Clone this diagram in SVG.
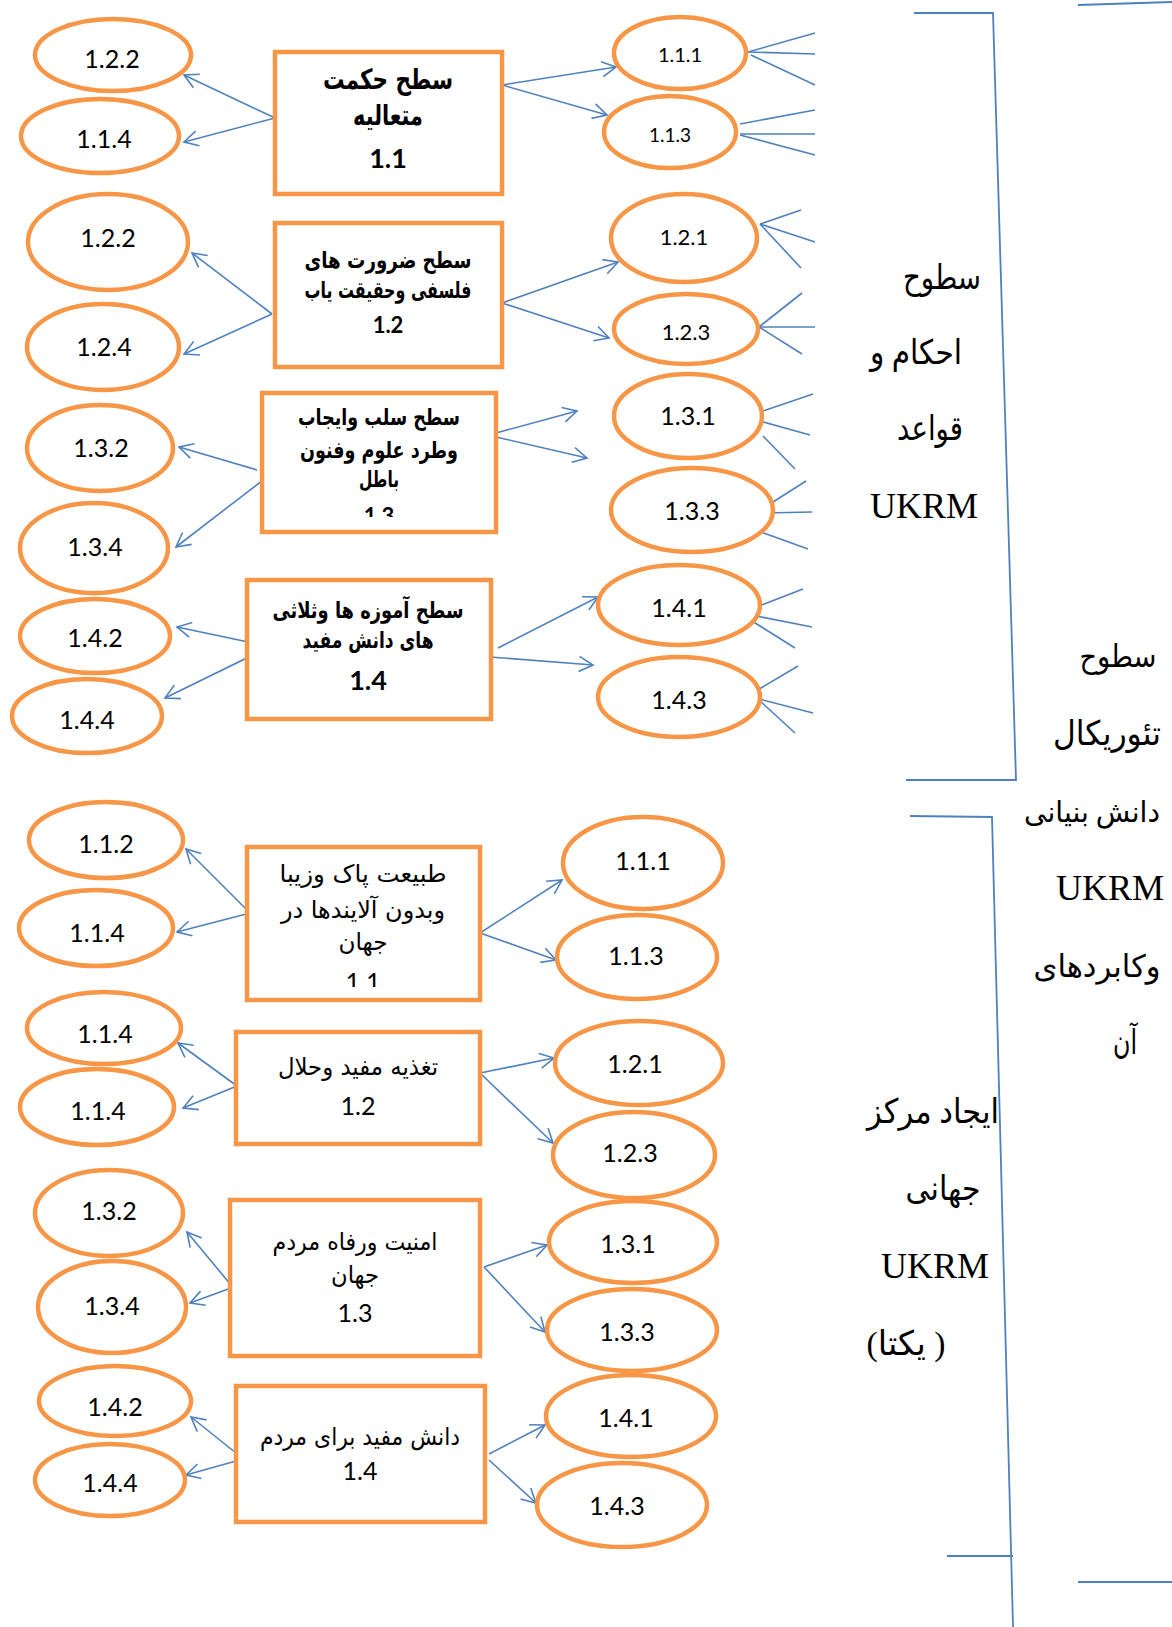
<svg xmlns="http://www.w3.org/2000/svg" width="1172" height="1627" viewBox="0 0 1172 1627">
<defs>
<style>
.el{fill:#fff;stroke:#F79646;stroke-width:4.5}
.bx{fill:#fff;stroke:#F79646;stroke-width:4.5}
.lbl{font-family:Lato,'Open Sans',sans-serif;font-size:25px;fill:#000;text-anchor:middle}
.lbs{font-family:Lato,'Open Sans',sans-serif;font-size:22px;fill:#000;text-anchor:middle}
.ar{font-family:'DejaVu Sans',sans-serif;fill:#000;text-anchor:middle}
.arb{font-family:'DejaVu Sans',sans-serif;font-weight:bold;fill:#000;text-anchor:middle}
.num{font-family:Lato,'Open Sans',sans-serif;fill:#000;text-anchor:middle}
.rt{font-family:'Liberation Serif','DejaVu Sans',serif;font-size:34px;fill:#000;text-anchor:middle}
.uk{font-size:36px}
.cn line{stroke:#4F81BD;stroke-width:1.6;fill:none}
.cn .a{marker-end:url(#ah)}
.br{stroke:#4F81BD;stroke-width:1.8;fill:none}
</style>
<marker id="ah" viewBox="0 0 18 18" refX="16" refY="9" markerWidth="18" markerHeight="18" markerUnits="userSpaceOnUse" orient="auto">
<path d="M2,1.5 L16,9 L2,16.5" fill="none" stroke="#4F81BD" stroke-width="1.6"/>
</marker>
<clipPath id="clip13"><rect x="262" y="393" width="234" height="124"/></clipPath>
<clipPath id="clip11"><rect x="247" y="847" width="233" height="140"/></clipPath>
</defs>

<g id="connectors" class="cn">
<line class="a" x1="275" y1="118" x2="184" y2="75"/>
<line class="a" x1="275" y1="118" x2="184" y2="142"/>
<line class="a" x1="502" y1="85" x2="616" y2="67"/>
<line class="a" x1="502" y1="85" x2="607" y2="115"/>
<line class="a" x1="272" y1="314" x2="192" y2="253"/>
<line class="a" x1="272" y1="314" x2="184" y2="354"/>
<line class="a" x1="502" y1="303" x2="618" y2="262"/>
<line class="a" x1="502" y1="303" x2="609" y2="338"/>
<line class="a" x1="257" y1="470" x2="179" y2="447"/>
<line class="a" x1="263" y1="480" x2="176" y2="547"/>
<line class="a" x1="496" y1="433" x2="577" y2="411"/>
<line class="a" x1="496" y1="437" x2="587" y2="458"/>
<line class="a" x1="253" y1="643" x2="177" y2="627"/>
<line class="a" x1="257" y1="653" x2="165" y2="698"/>
<line class="a" x1="498" y1="648" x2="598" y2="597"/>
<line class="a" x1="490" y1="657" x2="593" y2="665"/>
<line class="a" x1="250" y1="913" x2="186" y2="849"/>
<line class="a" x1="250" y1="913" x2="177" y2="932"/>
<line class="a" x1="480" y1="933" x2="562" y2="880"/>
<line class="a" x1="480" y1="933" x2="556" y2="960"/>
<line class="a" x1="237" y1="1086" x2="178" y2="1043"/>
<line class="a" x1="237" y1="1086" x2="183" y2="1108"/>
<line class="a" x1="480" y1="1073" x2="554" y2="1058"/>
<line class="a" x1="480" y1="1073" x2="553" y2="1143"/>
<line class="a" x1="231" y1="1285" x2="187" y2="1232"/>
<line class="a" x1="231" y1="1288" x2="190" y2="1303"/>
<line class="a" x1="484" y1="1267" x2="547" y2="1245"/>
<line class="a" x1="484" y1="1267" x2="545" y2="1332"/>
<line class="a" x1="236" y1="1453" x2="191" y2="1417"/>
<line class="a" x1="236" y1="1461" x2="186" y2="1475"/>
<line class="a" x1="489" y1="1454" x2="545" y2="1425"/>
<line class="a" x1="489" y1="1460" x2="536" y2="1503"/>
<line x1="748" y1="52" x2="815" y2="33"/>
<line x1="748" y1="52" x2="815" y2="54"/>
<line x1="751" y1="55" x2="815" y2="85"/>
<line x1="740" y1="124" x2="815" y2="110"/>
<line x1="740" y1="134" x2="815" y2="134"/>
<line x1="740" y1="135" x2="815" y2="155"/>
<line x1="760" y1="224" x2="801" y2="210"/>
<line x1="760" y1="224" x2="815" y2="242"/>
<line x1="760" y1="224" x2="801" y2="268"/>
<line x1="759" y1="327" x2="802" y2="293"/>
<line x1="759" y1="327" x2="815" y2="327"/>
<line x1="759" y1="327" x2="802" y2="354"/>
<line x1="763" y1="411" x2="813" y2="394"/>
<line x1="760" y1="421" x2="810" y2="435"/>
<line x1="763" y1="436" x2="795" y2="469"/>
<line x1="773" y1="502" x2="806" y2="481"/>
<line x1="764" y1="513" x2="812" y2="512"/>
<line x1="761" y1="532" x2="808" y2="549"/>
<line x1="759" y1="606" x2="803" y2="589"/>
<line x1="756" y1="616" x2="812" y2="627"/>
<line x1="752" y1="621" x2="795" y2="648"/>
<line x1="756" y1="691" x2="798" y2="666"/>
<line x1="759" y1="699" x2="813" y2="713"/>
<line x1="759" y1="700" x2="795" y2="733"/>
</g>

<g id="brackets">
<polyline class="br" points="914,13 993,13 1016,780 906,780"/>
<line class="br" x1="1078" y1="5" x2="1172" y2="2"/>
<polyline class="br" points="910,816 992,817 1013,1627"/>
<line class="br" x1="947" y1="1556" x2="1013" y2="1556"/>
<line class="br" x1="1078" y1="1582" x2="1172" y2="1582"/>
</g>

<!-- upper boxes -->
<g id="box-u11">
<rect class="bx" x="275" y="52" width="227" height="142"/>
<text class="arb" x="388" y="89" font-size="28" textLength="130" lengthAdjust="spacingAndGlyphs">سطح حکمت</text>
<text class="arb" x="388" y="125" font-size="28" textLength="70" lengthAdjust="spacingAndGlyphs">متعالیه</text>
<text class="num" x="388" y="168" font-size="27" font-weight="bold">1.1</text>
</g>
<g id="box-u12">
<rect class="bx" x="275" y="223" width="227" height="144"/>
<text class="arb" x="388" y="268" font-size="23" textLength="167" lengthAdjust="spacingAndGlyphs">سطح ضرورت های</text>
<text class="arb" x="388" y="298" font-size="23" textLength="167" lengthAdjust="spacingAndGlyphs">فلسفی وحقیقت یاب</text>
<text class="num" x="388" y="333" font-size="22" font-weight="bold">1.2</text>
</g>
<g id="box-u13">
<rect class="bx" x="262" y="393" width="234" height="139"/>
<text class="arb" x="379" y="425" font-size="23" textLength="162" lengthAdjust="spacingAndGlyphs">سطح سلب وایجاب</text>
<text class="arb" x="379" y="458" font-size="23" textLength="158" lengthAdjust="spacingAndGlyphs">وطرد علوم وفنون</text>
<text class="arb" x="379" y="487" font-size="23" textLength="40" lengthAdjust="spacingAndGlyphs">باطل</text>
<text class="num" x="379" y="524" font-size="22" font-weight="bold" clip-path="url(#clip13)">1.3</text>
</g>
<g id="box-u14">
<rect class="bx" x="247" y="580" width="244" height="139"/>
<text class="arb" x="368" y="618" font-size="23" textLength="191" lengthAdjust="spacingAndGlyphs">سطح آموزه ها وثلاثی</text>
<text class="arb" x="368" y="648" font-size="23" textLength="131" lengthAdjust="spacingAndGlyphs">های دانش مفید</text>
<text class="num" x="368" y="690" font-size="27" font-weight="bold">1.4</text>
</g>

<!-- lower boxes -->
<g id="box-l11">
<rect class="bx" x="247" y="847" width="233" height="153"/>
<text class="ar" x="363" y="882" font-size="24" textLength="167" lengthAdjust="spacingAndGlyphs">طبیعت پاک وزیبا</text>
<text class="ar" x="363" y="918" font-size="24" textLength="164" lengthAdjust="spacingAndGlyphs">وبدون آلایندها در</text>
<text class="ar" x="363" y="950" font-size="24" textLength="49" lengthAdjust="spacingAndGlyphs">جهان</text>
<text class="num" x="363" y="991" font-size="25" clip-path="url(#clip11)">1.1</text>
</g>
<g id="box-l12">
<rect class="bx" x="236" y="1032" width="244" height="112"/>
<text class="ar" x="358" y="1075" font-size="24" textLength="160" lengthAdjust="spacingAndGlyphs">تغذیه مفید وحلال</text>
<text class="num" x="358" y="1115" font-size="25">1.2</text>
</g>
<g id="box-l13">
<rect class="bx" x="230" y="1200" width="250" height="156"/>
<text class="ar" x="355" y="1250" font-size="24" textLength="165" lengthAdjust="spacingAndGlyphs">امنیت ورفاه مردم</text>
<text class="ar" x="355" y="1283" font-size="24" textLength="48" lengthAdjust="spacingAndGlyphs">جهان</text>
<text class="num" x="355" y="1322" font-size="25">1.3</text>
</g>
<g id="box-l14">
<rect class="bx" x="236" y="1386" width="249" height="136"/>
<text class="ar" x="360" y="1445" font-size="24" textLength="200" lengthAdjust="spacingAndGlyphs">دانش مفید برای مردم</text>
<text class="num" x="360" y="1480" font-size="25">1.4</text>
</g>

<!-- upper left ellipses -->
<g id="eu-122a"><ellipse class="el" cx="113" cy="55" rx="78" ry="36"/><text class="lbl" x="112" y="68">1.2.2</text></g>
<g id="eu-114"><ellipse class="el" cx="100" cy="136" rx="79" ry="37"/><text class="lbl" x="104" y="148">1.1.4</text></g>
<g id="eu-122b"><ellipse class="el" cx="108" cy="242" rx="80" ry="48"/><text class="lbl" x="108" y="247">1.2.2</text></g>
<g id="eu-124"><ellipse class="el" cx="103" cy="347" rx="76" ry="43"/><text class="lbl" x="104" y="356">1.2.4</text></g>
<g id="eu-132"><ellipse class="el" cx="100" cy="448" rx="73" ry="43"/><text class="lbl" x="101" y="457">1.3.2</text></g>
<g id="eu-134"><ellipse class="el" cx="94" cy="548" rx="74" ry="45"/><text class="lbl" x="95" y="556">1.3.4</text></g>
<g id="eu-142"><ellipse class="el" cx="95" cy="636" rx="75" ry="37"/><text class="lbl" x="95" y="647">1.4.2</text></g>
<g id="eu-144"><ellipse class="el" cx="87" cy="716" rx="75" ry="37"/><text class="lbl" x="87" y="729">1.4.4</text></g>

<!-- upper right ellipses -->
<g id="eu-111"><ellipse class="el" cx="680" cy="53" rx="66" ry="36"/><text class="lbs" x="680" y="62" style="font-size:20px">1.1.1</text></g>
<g id="eu-113"><ellipse class="el" cx="670" cy="132" rx="66" ry="36"/><text class="lbs" x="670" y="142" style="font-size:19px">1.1.3</text></g>
<g id="eu-121"><ellipse class="el" cx="684" cy="238" rx="73" ry="44"/><text class="lbs" x="684" y="245">1.2.1</text></g>
<g id="eu-123"><ellipse class="el" cx="686" cy="329" rx="72" ry="35"/><text class="lbs" x="686" y="340">1.2.3</text></g>
<g id="eu-131"><ellipse class="el" cx="688" cy="416" rx="74" ry="42"/><text class="lbl" x="688" y="425">1.3.1</text></g>
<g id="eu-133"><ellipse class="el" cx="692" cy="510" rx="81" ry="42"/><text class="lbl" x="692" y="520">1.3.3</text></g>
<g id="eu-141"><ellipse class="el" cx="679" cy="605" rx="81" ry="40"/><text class="lbl" x="679" y="617">1.4.1</text></g>
<g id="eu-143"><ellipse class="el" cx="679" cy="697" rx="81" ry="40"/><text class="lbl" x="679" y="709">1.4.3</text></g>

<!-- lower left ellipses -->
<g id="el-112"><ellipse class="el" cx="106" cy="840" rx="77" ry="38"/><text class="lbl" x="106" y="853">1.1.2</text></g>
<g id="el-114a"><ellipse class="el" cx="96" cy="928" rx="77" ry="38"/><text class="lbl" x="97" y="942">1.1.4</text></g>
<g id="el-114b"><ellipse class="el" cx="104" cy="1028" rx="77" ry="36"/><text class="lbl" x="105" y="1043">1.1.4</text></g>
<g id="el-114c"><ellipse class="el" cx="97" cy="1107" rx="77" ry="38"/><text class="lbl" x="98" y="1120">1.1.4</text></g>
<g id="el-132"><ellipse class="el" cx="109" cy="1213" rx="74" ry="43"/><text class="lbl" x="109" y="1220">1.3.2</text></g>
<g id="el-134"><ellipse class="el" cx="112" cy="1307" rx="74" ry="46"/><text class="lbl" x="112" y="1315">1.3.4</text></g>
<g id="el-142"><ellipse class="el" cx="115" cy="1401" rx="76" ry="35"/><text class="lbl" x="115" y="1416">1.4.2</text></g>
<g id="el-144"><ellipse class="el" cx="110" cy="1480" rx="75" ry="36"/><text class="lbl" x="110" y="1492">1.4.4</text></g>

<!-- lower right ellipses -->
<g id="el-111"><ellipse class="el" cx="643" cy="863" rx="80" ry="46"/><text class="lbl" x="643" y="870">1.1.1</text></g>
<g id="el-113"><ellipse class="el" cx="637" cy="957" rx="80" ry="42"/><text class="lbl" x="636" y="965">1.1.3</text></g>
<g id="el-121"><ellipse class="el" cx="639" cy="1063" rx="84" ry="42"/><text class="lbl" x="635" y="1073">1.2.1</text></g>
<g id="el-123"><ellipse class="el" cx="634" cy="1155" rx="81" ry="43"/><text class="lbl" x="630" y="1162">1.2.3</text></g>
<g id="el-131"><ellipse class="el" cx="633" cy="1242" rx="84" ry="41"/><text class="lbl" x="628" y="1253">1.3.1</text></g>
<g id="el-133"><ellipse class="el" cx="632" cy="1330" rx="85" ry="41"/><text class="lbl" x="627" y="1341">1.3.3</text></g>
<g id="el-141"><ellipse class="el" cx="631" cy="1416" rx="85" ry="41"/><text class="lbl" x="626" y="1427">1.4.1</text></g>
<g id="el-143"><ellipse class="el" cx="622" cy="1505" rx="85" ry="42"/><text class="lbl" x="617" y="1515">1.4.3</text></g>

<!-- right side labels -->
<g id="label-upper">
<text class="rt" x="942" y="289" textLength="78" lengthAdjust="spacingAndGlyphs">سطوح</text>
<text class="rt" x="916" y="364" textLength="92" lengthAdjust="spacingAndGlyphs">احکام و</text>
<text class="rt" x="930" y="440" textLength="66" lengthAdjust="spacingAndGlyphs">قواعد</text>
<text class="rt uk" x="924" y="518">UKRM</text>
</g>
<g id="label-main">
<text class="rt" x="1118" y="667" style="font-size:31px" textLength="77" lengthAdjust="spacingAndGlyphs">سطوح</text>
<text class="rt" x="1107" y="745" textLength="108" lengthAdjust="spacingAndGlyphs">تئوریکال</text>
<text class="rt" x="1092" y="822" style="font-size:29px" textLength="136" lengthAdjust="spacingAndGlyphs">دانش بنیانی</text>
<text class="rt uk" x="1110" y="900">UKRM</text>
<text class="rt" x="1097" y="977" style="font-size:31px" textLength="127" lengthAdjust="spacingAndGlyphs">وکابردهای</text>
<text class="rt" x="1125" y="1054" textLength="24" lengthAdjust="spacingAndGlyphs">آن</text>
</g>
<g id="label-lower">
<text class="rt" x="933" y="1123" textLength="132" lengthAdjust="spacingAndGlyphs">ایجاد مرکز</text>
<text class="rt" x="943" y="1200" textLength="75" lengthAdjust="spacingAndGlyphs">جهانی</text>
<text class="rt uk" x="935" y="1278">UKRM</text>
<text class="rt" x="906" y="1355" direction="rtl" textLength="79" lengthAdjust="spacingAndGlyphs">( یکتا)</text>
</g>
</svg>
